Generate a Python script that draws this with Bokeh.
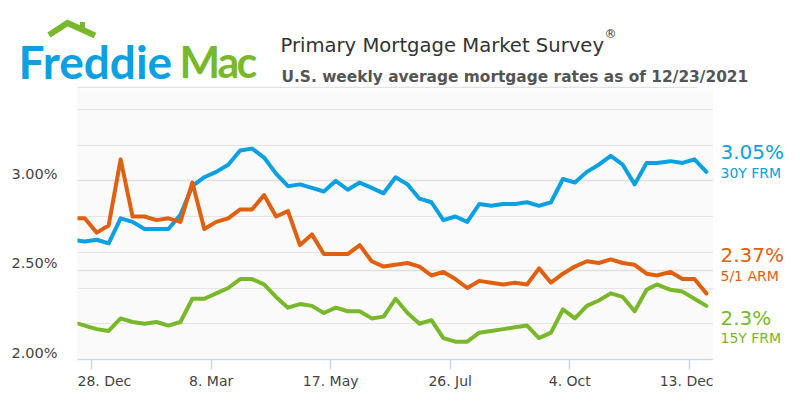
import pandas as pd
from bokeh.plotting import figure
from bokeh.layouts import column, row
from bokeh.models import Range1d, FixedTicker, Grid, ColumnDataSource
from bokeh.embed import file_html
from bokeh.resources import INLINE
from bokeh.core.properties import value

# ---------------- data ----------------
dates = [
    "2020-12-17", "2020-12-24", "2020-12-31", "2021-01-07", "2021-01-14", "2021-01-21",
    "2021-01-28", "2021-02-04", "2021-02-11", "2021-02-18", "2021-02-25", "2021-03-04",
    "2021-03-11", "2021-03-18", "2021-03-25", "2021-04-01", "2021-04-08", "2021-04-15",
    "2021-04-22", "2021-04-29", "2021-05-06", "2021-05-13", "2021-05-20", "2021-05-27",
    "2021-06-03", "2021-06-10", "2021-06-17", "2021-06-24", "2021-07-01", "2021-07-08",
    "2021-07-15", "2021-07-22", "2021-07-29", "2021-08-05", "2021-08-12", "2021-08-19",
    "2021-08-26", "2021-09-02", "2021-09-09", "2021-09-16", "2021-09-23", "2021-09-30",
    "2021-10-07", "2021-10-14", "2021-10-21", "2021-10-28", "2021-11-04", "2021-11-11",
    "2021-11-18", "2021-11-24", "2021-12-02", "2021-12-09", "2021-12-16", "2021-12-23",
]
frm30 = [2.67, 2.66, 2.67, 2.65, 2.79, 2.77, 2.73, 2.73, 2.73, 2.81, 2.97, 3.02, 3.05, 3.09,
         3.17, 3.18, 3.13, 3.04, 2.97, 2.98, 2.96, 2.94, 3.00, 2.95, 2.99, 2.96, 2.93, 3.02,
         2.98, 2.90, 2.88, 2.78, 2.80, 2.77, 2.87, 2.86, 2.87, 2.87, 2.88, 2.86, 2.88,
         3.01, 2.99, 3.05, 3.09, 3.14, 3.09, 2.98, 3.10, 3.10, 3.11, 3.10, 3.12, 3.05]
arm51 = [2.79, 2.79, 2.71, 2.75, 3.12, 2.80, 2.80, 2.78, 2.79, 2.77, 2.99, 2.73, 2.77, 2.79,
         2.84, 2.84, 2.92, 2.80, 2.83, 2.64, 2.70, 2.59, 2.59, 2.59, 2.64, 2.55, 2.52, 2.53,
         2.54, 2.52, 2.47, 2.49, 2.45, 2.40, 2.44, 2.43, 2.42, 2.43, 2.42, 2.51, 2.43,
         2.48, 2.52, 2.55, 2.54, 2.56, 2.54, 2.53, 2.48, 2.47, 2.49, 2.45, 2.45, 2.37]
frm15 = [2.21, 2.19, 2.17, 2.16, 2.23, 2.21, 2.20, 2.21, 2.19, 2.21, 2.34, 2.34, 2.37, 2.40,
         2.45, 2.45, 2.42, 2.35, 2.29, 2.31, 2.30, 2.26, 2.29, 2.27, 2.27, 2.23, 2.24, 2.34,
         2.26, 2.20, 2.22, 2.12, 2.10, 2.10, 2.15, 2.16, 2.17, 2.18, 2.19, 2.12, 2.15,
         2.28, 2.23, 2.30, 2.33, 2.37, 2.35, 2.27, 2.39, 2.42, 2.39, 2.38, 2.34, 2.30]

series_names = ["30Y FRM", "5/1 ARM", "15Y FRM"]
tick_dates = ["2020-12-28", "2021-03-08", "2021-05-17", "2021-07-26", "2021-10-04", "2021-12-13"]
tick_labels = ["28. Dec", "8. Mar", "17. May", "26. Jul", "4. Oct", "13. Dec"]
y_ticks = [2.0, 2.5, 3.0]
y_tick_labels = ["2.00%", "2.50%", "3.00%"]
x_start, x_end = "2020-12-19 18:00", "2021-12-27 04:00"
y_start, y_end = 2.0, 3.5165

title_text = "Primary Mortgage Market Survey"
subtitle_text = "U.S. weekly average mortgage rates as of 12/23/2021"

# ---------------- styling ----------------
BLUE = "#0aa0e2"
ORANGE = "#e0600f"
GREEN = "#78b82a"
FONT = "DejaVu Sans"


def ms(vals):
    return [float(v) for v in (pd.to_datetime(vals).astype("int64") // 10**6)]


xs = ms(dates)
tick_ms = ms(tick_dates)
src = ColumnDataSource(dict(x=xs, frm30=frm30, arm51=arm51, frm15=frm15))

common = dict(output_backend="svg", toolbar_location=None, title=None,
              border_fill_color="white", outline_line_color=None)

# ---------------- header (x: canvas px, y: 88 - canvas px) ----------------
hdr = figure(width=800, height=88, x_range=Range1d(0, 800), y_range=Range1d(0, 88),
             x_axis_location=None, y_axis_location=None, background_fill_color="white",
             min_border_left=0, min_border_right=0, min_border_top=0, min_border_bottom=0,
             **common)
hdr.xgrid.visible = False
hdr.ygrid.visible = False
# logo roof + chimney
hdr.line(x=[48.5, 67, 94.5], y=[88 - 34.5, 88 - 22.5, 88 - 35], line_color=GREEN,
         line_width=6, line_join="miter", line_cap="butt")
hdr.quad(left=[79.5], right=[84.5], top=[88 - 21.5], bottom=[88 - 28.5], fill_color=GREEN,
         line_color=None)
hdr.text(x=[18], y=[88 - 60.5], text=["Freddie"], text_color=BLUE, text_font=value("Lato"),
         text_font_style="bold", text_font_size="46px", text_baseline="middle")
hdr.text(x=[179, 217, 236], y=[88 - 60.5] * 3, text=["M", "a", "c"], text_color=GREEN,
         text_font=value("Lato"), text_font_style="bold", text_font_size="43px",
         text_baseline="middle")
hdr.text(x=[280], y=[88 - 44.5], text=[title_text], text_color="#333333",
         text_font=value(FONT), text_font_size="19.6px", text_baseline="middle")
hdr.text(x=[604], y=[88 - 33], text=["®"], text_color="#333333",
         text_font=value(FONT), text_font_size="12px", text_baseline="middle")
hdr.text(x=[281], y=[88 - 76], text=[subtitle_text], text_color="#555555",
         text_font=value(FONT), text_font_style="bold", text_font_size="15.4px",
         text_baseline="middle")
hdr.line(x=[77, 697], y=[0.8, 0.8], line_color="#e3e3e3", line_width=2)

# ---------------- main plot ----------------
p = figure(width=636, height=330, x_range=Range1d(ms([x_start])[0], ms([x_end])[0]),
           y_range=Range1d(y_start, y_end), y_axis_location=None,
           background_fill_color="#fafafa",
           min_border_left=0, min_border_right=0, min_border_top=0, min_border_bottom=59,
           **common)
p.xgrid.visible = False
p.add_layout(Grid(dimension=1, ticker=FixedTicker(ticks=y_ticks),
                  grid_line_color="#e0e0e0", grid_line_width=1.5))
ax = p.xaxis[0]
ax.ticker = FixedTicker(ticks=tick_ms)
ax.major_label_overrides = {t: l for t, l in zip(tick_ms, tick_labels)}
ax.axis_line_color = "#ccd6eb"
ax.axis_line_width = 1.5
ax.major_tick_line_color = "#ccd6eb"
ax.major_tick_line_width = 1.5
ax.major_tick_out = 10
ax.major_tick_in = 0
ax.minor_tick_line_color = None
ax.major_label_standoff = 3
ax.major_label_text_font = FONT
ax.major_label_text_font_size = "14px"
ax.major_label_text_color = "#444444"

line_kw = dict(line_width=4, line_join="round", line_cap="round")
p.line("x", "frm30", source=src, line_color=BLUE, **line_kw)
p.line("x", "frm15", source=src, line_color=GREEN, **line_kw)
p.line("x", "arm51", source=src, line_color=ORANGE, **line_kw)

# ---------------- y labels (left) ----------------
pl = figure(width=77, height=330, x_range=Range1d(0, 77), y_range=p.y_range,
            x_axis_location=None, y_axis_location=None, background_fill_color="white",
            min_border_left=0, min_border_right=0, min_border_top=0, min_border_bottom=59,
            **common)
pl.xgrid.visible = False
pl.ygrid.visible = False
pl.text(x=[57] * len(y_ticks), y=y_ticks, text=y_tick_labels, text_align="right",
        text_baseline="middle", y_offset=-7, text_font=value(FONT), text_font_size="14.5px",
        text_color="#444444")

# ---------------- right-hand value labels (y: 359 - canvas px) ----------------
pr = figure(width=87, height=330, x_range=Range1d(0, 87), y_range=Range1d(0, 271),
            x_axis_location=None, y_axis_location=None, background_fill_color="white",
            min_border_left=0, min_border_right=0, min_border_top=0, min_border_bottom=59,
            **common)
pr.xgrid.visible = False
pr.ygrid.visible = False
last_vals = [frm30[-1], arm51[-1], frm15[-1]]
colors = [BLUE, ORANGE, GREEN]
val_y = [359 - 151.2, 359 - 254, 359 - 317]
name_y = [359 - 172.3, 359 - 275, 359 - 337]
pr.text(x=[7] * 3, y=val_y, text=[f"{v:g}%" for v in last_vals], text_color=colors,
        text_font=value(FONT), text_font_size="20px", text_baseline="middle")
pr.text(x=[7] * 3, y=name_y, text=series_names, text_color=colors,
        text_font=value(FONT), text_font_size="14px", text_baseline="middle")

layout = column(hdr, row(pl, p, pr, spacing=0), spacing=0)
open("out.html", "w").write(file_html(layout, INLINE))
